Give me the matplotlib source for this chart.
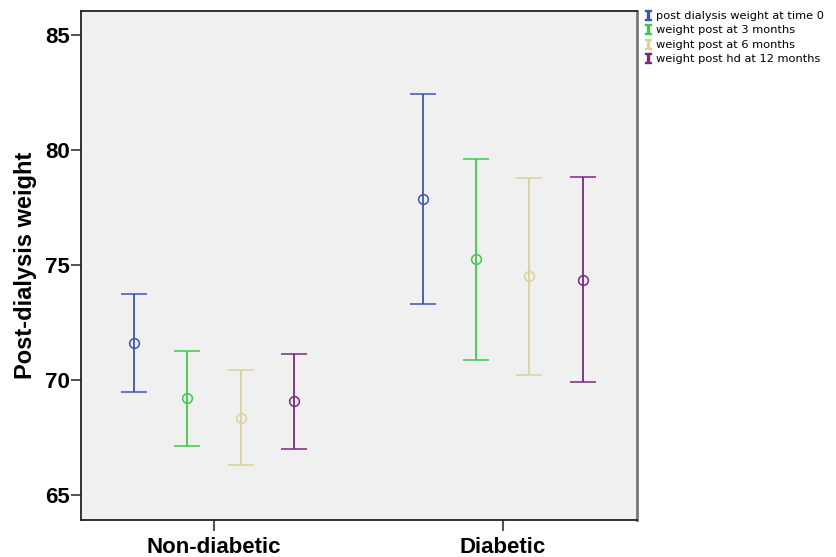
import matplotlib
matplotlib.use("Agg")
from matplotlib import pyplot as plt
from matplotlib.lines import Line2D

groups = ["Non-diabetic", "Diabetic"]
series = ["post dialysis weight at time 0", "weight post at 3 months",
          "weight post at 6 months", "weight post hd at 12 months"]
colors = ["#3d56ae", "#3ec74d", "#d8d39a", "#7a2a7c"]

# mean, lower CI, upper CI for each series, per group
means = [[71.62, 77.87], [69.22, 75.25], [68.36, 74.51], [69.09, 74.35]]
lower = [[69.49, 73.30], [67.14, 70.86], [66.28, 70.20], [67.01, 69.90]]
upper = [[73.74, 82.43], [71.26, 79.62], [70.43, 78.80], [71.14, 78.81]]

offsets = [-0.277, -0.0925, 0.0925, 0.277]

fig = plt.figure(figsize=(8.37, 5.57), dpi=100)
ax = fig.add_axes([81 / 837, 1 - 520 / 557, (637 - 81) / 837, (520 - 11) / 557])
ax.set_facecolor("#f0f0f0")

for i in range(len(series)):
    xs = [g + offsets[i] for g in range(len(groups))]
    yerr = [[m - lo for m, lo in zip(means[i], lower[i])],
            [hi - m for m, hi in zip(means[i], upper[i])]]
    ax.errorbar(xs, means[i], yerr=yerr, fmt="o", color=colors[i],
                mfc="none", mec=colors[i], ms=7, mew=1.1,
                elinewidth=1.3, capsize=9.5, capthick=1.6)

ax.set_xlim(-0.461, 1.465)
ax.set_ylim(63.9, 86.05)
ax.set_xticks(range(len(groups)))
ax.set_xticklabels(groups)
ax.set_yticks([65, 70, 75, 80, 85])

for lab in ax.get_xticklabels() + ax.get_yticklabels():
    lab.set_fontfamily("Liberation Sans")
    lab.set_fontweight("bold")
    lab.set_fontsize(16)

ax.tick_params(axis="y", length=7, width=1.2, color="#333333", pad=1)
ax.tick_params(axis="x", length=8, width=1.5, color="#555555", pad=4)
for s in ax.spines.values():
    s.set_color("#222222")
    s.set_linewidth(1.3)
ax.spines["right"].set_color("#777777")
ax.spines["right"].set_linewidth(2)

ax.set_ylabel("Post-dialysis weight", fontfamily="Liberation Sans",
              fontweight="bold", fontsize=17, labelpad=6)

handles = [Line2D([], [], linestyle="none", marker=r"$\mathtt{I}$",
                  color=c, markersize=7.5) for c in colors]
fig.legend(handles, series, loc="upper left", bbox_to_anchor=(645 / 837, 1 - 11 / 557),
           frameon=False, fontsize=8.2, handlelength=0.6, handletextpad=0.4,
           labelspacing=0.38, borderpad=0, borderaxespad=0)

fig.savefig("out.png", dpi=100)
